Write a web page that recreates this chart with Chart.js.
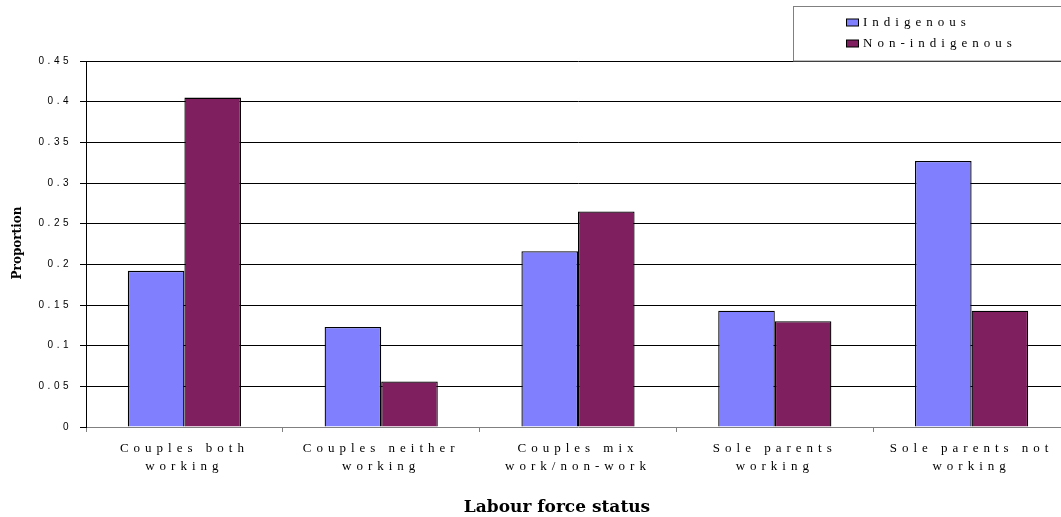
<!DOCTYPE html>
<html>
<head>
<meta charset="utf-8">
<script src="https://cdn.jsdelivr.net/npm/chart.js@4/dist/chart.umd.min.js"></script>
<style>
  html, body { margin: 0; padding: 0; background: #fff; overflow: hidden; }
  #wrap { width: 1080px; height: 517px; }
</style>
</head>
<body>
<div id="wrap"><canvas id="c" width="1080" height="517"></canvas></div>
<script>
const categories = [
  ['Couples both', 'working'],
  ['Couples neither', 'working'],
  ['Couples mix', 'work/non-work'],
  ['Sole parents', 'working'],
  ['Sole parents not', 'working']
];
const seriesNames = ['Indigenous', 'Non-indigenous'];
const indigenous = [0.192, 0.123, 0.216, 0.143, 0.327];
const nonIndigenous = [0.405, 0.056, 0.265, 0.130, 0.143];
const yTickLabels = ['0', '0.05', '0.1', '0.15', '0.2', '0.25', '0.3', '0.35', '0.4', '0.45'];
const xTitle = 'Labour force status';
const yTitle = 'Proportion';

const colors = ['#8080FF', '#7F1F5F'];

const spacingPlugin = {
  id: 'spacing',
  beforeDraw(chart) {
    chart.ctx.letterSpacing = '3.5px';
  },
  afterDatasetsDraw(chart) {
    chart.ctx.letterSpacing = '5px';
  },
  afterDraw(chart) {
    const ctx = chart.ctx;
    ctx.save();
    ctx.letterSpacing = '0px';
    ctx.fillStyle = '#000';
    // y title
    ctx.font = 'bold 12px "DejaVu Serif"';
    ctx.textAlign = 'center';
    ctx.textBaseline = 'middle';
    ctx.save();
    ctx.translate(18, 243);
    ctx.rotate(-Math.PI / 2);
    ctx.fillText(yTitle, 0, 0);
    ctx.restore();
    // x title
    ctx.font = 'bold 17px "DejaVu Serif"';
    ctx.fillText(xTitle, 557, 508);
    // legend box
    ctx.fillStyle = '#fff';
    ctx.fillRect(793.5, 6.5, 300, 54.5);
    ctx.strokeStyle = '#808080';
    ctx.lineWidth = 1;
    ctx.strokeRect(793.5, 6.5, 300, 54.5);
    ctx.letterSpacing = '5px';
    ctx.font = '13px "Liberation Serif"';
    ctx.textAlign = 'left';
    chart.data.datasets.forEach((ds, i) => {
      const cy = 22.5 + i * 21;
      ctx.fillStyle = ds.backgroundColor;
      ctx.fillRect(846.5, cy - 3.5, 12, 7);
      ctx.strokeStyle = '#000';
      ctx.strokeRect(846.5, cy - 3.5, 12, 7);
      ctx.fillStyle = '#000';
      ctx.fillText(ds.label, 863, cy + 0.5);
    });
    ctx.restore();
  }
};

new Chart(document.getElementById('c'), {
  type: 'bar',
  data: {
    labels: categories,
    datasets: [
      { label: seriesNames[0], data: indigenous, backgroundColor: colors[0], borderColor: '#000', borderWidth: 1.3 },
      { label: seriesNames[1], data: nonIndigenous, backgroundColor: colors[1], borderColor: '#000', borderWidth: 1.3 }
    ]
  },
  options: {
    responsive: false,
    devicePixelRatio: 1,
    animation: false,
    events: [],
    layout: { padding: { top: 61, right: 10, left: 0, bottom: 0 } },
    datasets: { bar: { categoryPercentage: 0.575, barPercentage: 1 } },
    plugins: { legend: { display: false }, tooltip: { enabled: false }, title: { display: false } },
    scales: {
      x: {
        offset: true,
        afterFit(scale) { scale.height = 90; },
        grid: { drawOnChartArea: false, tickLength: 5, tickColor: '#808080', offset: true },
        border: { color: '#808080', width: 1 },
        ticks: {
          z: 1,
          autoSkip: false, maxRotation: 0, minRotation: 0,
          padding: 8,
          color: '#000',
          font: { family: '"Liberation Serif"', size: 13, lineHeight: 1.35 }
        }
      },
      y: {
        min: 0, max: 0.45,
        afterFit(scale) { scale.width = 86; },
        grid: {
          color: (c) => (c.tick && c.tick.value === 0 ? 'rgba(0,0,0,0)' : '#000'),
          tickColor: '#000',
          tickLength: 6,
          lineWidth: 1
        },
        border: { color: '#000', width: 1 },
        ticks: {
          stepSize: 0.05,
          padding: 8,
          color: '#000',
          font: { family: '"Liberation Sans"', size: 10 },
          callback: (v, i) => yTickLabels[i]
        }
      }
    }
  },
  plugins: [spacingPlugin]
});
</script>
</body>
</html>
